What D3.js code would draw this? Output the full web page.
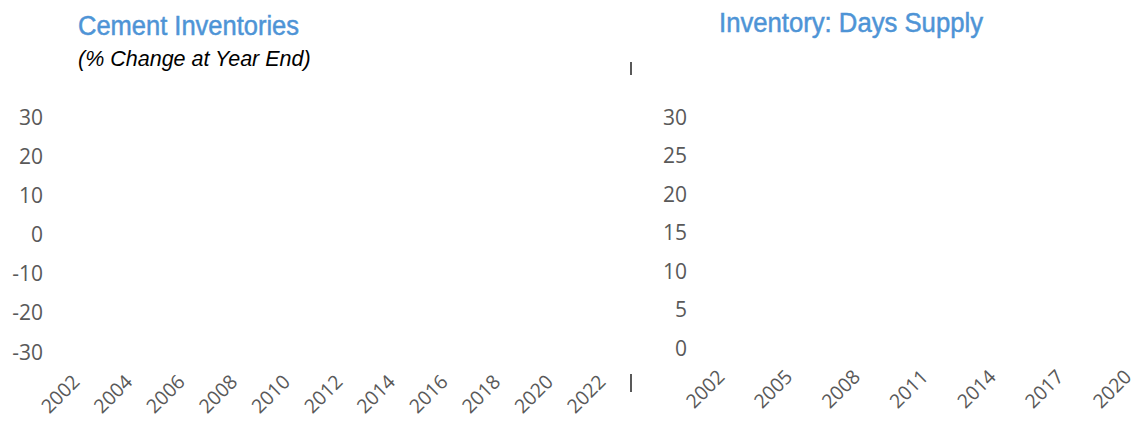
<!DOCTYPE html>
<html>
<head>
<meta charset="utf-8">
<script src="https://cdn.jsdelivr.net/npm/d3@7"></script>
<style>
  body { margin: 0; background: #fff; }
  .tick text { font-family: "Open Sans", sans-serif; font-size: 21px; fill: #595959; }
  .xax .tick text { font-size: 19.5px; }
  .title { font-family: "Liberation Sans", Arial, sans-serif; font-size: 27px; fill: #4e94d6; stroke: #4e94d6; stroke-width: 0.5px; }
  .subtitle { font-family: "Liberation Sans", Arial, sans-serif; font-size: 21.5px; font-style: italic; fill: #000; }
</style>
</head>
<body>
<svg id="chart" width="1138" height="421"></svg>
<script>
// left panel: cement inventories, % change at year end
let leftYears = d3.range(2002, 2023)
let leftYearLabels = [2002, 2004, 2006, 2008, 2010, 2012, 2014, 2016, 2018, 2020, 2022]
let leftTicks = [30, 20, 10, 0, -10, -20, -30]

// right panel: inventory days supply
let rightYears = d3.range(2002, 2021)
let rightYearLabels = [2002, 2005, 2008, 2011, 2014, 2017, 2020]
let rightTicks = [30, 25, 20, 15, 10, 5, 0]

// small separator marks between the panels
let sepMarks = [[62, 75], [374, 392]]

let svg = d3.select('#chart')

function styleYearLabels (g) {
  g.select('.domain').remove()
  g.selectAll('.tick text')
    .attr('text-anchor', 'end')
    .attr('dy', 0)
    .attr('y', 0)
    .attr('transform', 'translate(9,0) rotate(-45)')
}

/*** left panel ***/
let xL = d3.scaleBand().domain(leftYears).range([58.85, 611])
let yL = d3.scaleLinear().domain([-30, 30]).range([351.5, 116.5])

svg.append('text').attr('class', 'title').attr('x', 78).attr('y', 35)
  .attr('textLength', 221).attr('lengthAdjust', 'spacingAndGlyphs')
  .text('Cement Inventories')
svg.append('text').attr('class', 'subtitle').attr('x', 78).attr('y', 66).text('(% Change at Year End)')

let yAxisL = svg.append('g')
  .attr('transform', 'translate(43,0)')
  .call(d3.axisLeft(yL).tickValues(leftTicks).tickFormat(d => String(d)).tickSize(0).tickPadding(0))
yAxisL.select('.domain').remove()
yAxisL.selectAll('.tick text').attr('dy', '0.36em')

svg.append('g')
  .attr('class', 'xax')
  .attr('transform', 'translate(0,383)')
  .call(d3.axisBottom(xL).tickValues(leftYearLabels).tickSize(0).tickPadding(0))
  .call(styleYearLabels)

/*** right panel ***/
let xR = d3.scaleBand().domain(rightYears).range([705.6, 1135])
let yR = d3.scaleLinear().domain([0, 30]).range([347.5, 116.5])

svg.append('text').attr('class', 'title').attr('x', 719).attr('y', 32)
  .attr('textLength', 264).attr('lengthAdjust', 'spacingAndGlyphs')
  .text('Inventory: Days Supply')

let yAxisR = svg.append('g')
  .attr('transform', 'translate(687,0)')
  .call(d3.axisLeft(yR).tickValues(rightTicks).tickFormat(d => String(d)).tickSize(0).tickPadding(0))
yAxisR.select('.domain').remove()
yAxisR.selectAll('.tick text').attr('dy', '0.36em')

svg.append('g')
  .attr('class', 'xax')
  .attr('transform', 'translate(0,378)')
  .call(d3.axisBottom(xR).tickValues(rightYearLabels).tickSize(0).tickPadding(0))
  .call(styleYearLabels)

svg.append('g').selectAll('line')
  .data(sepMarks)
  .enter()
  .append('line')
  .attr('x1', 631).attr('x2', 631)
  .attr('y1', d => d[0]).attr('y2', d => d[1])
  .attr('stroke', '#595959')
  .attr('stroke-width', 2)
</script>
</body>
</html>
